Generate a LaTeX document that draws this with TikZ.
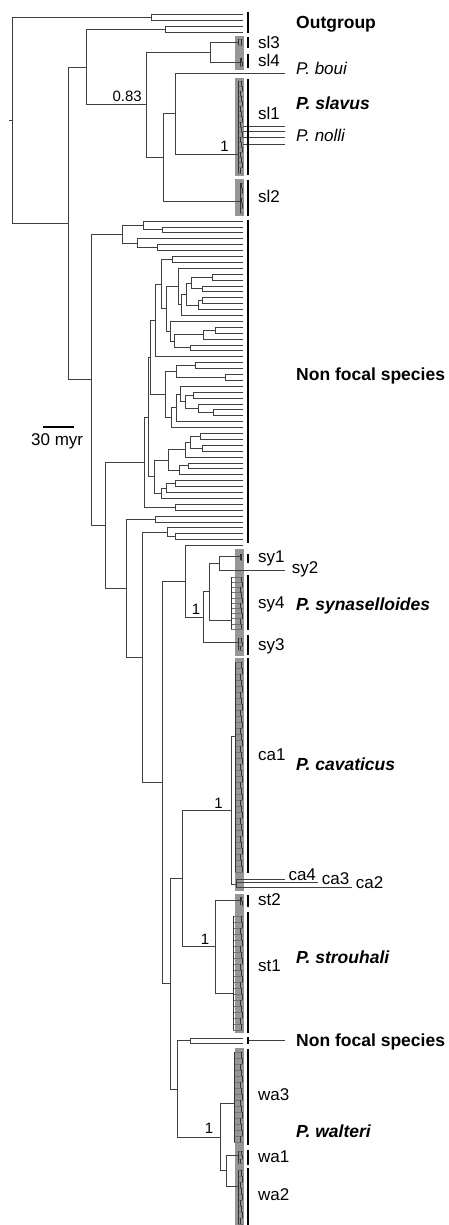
\documentclass[tikz,border=0pt]{standalone}
\usepackage{fontspec}
\setmainfont{Liberation Sans}
\usetikzlibrary{calc}
\definecolor{cladegray}{RGB}{150,150,150}
\tikzset{
  branch/.style={draw=black!75,line width=0.8pt},
  fine/.style={draw=black!80,line width=0.5pt},
  twig/.style={draw=black!55,line width=0.4pt},
  cladebar/.style={draw=black,line width=2.4pt},
  grp/.style={anchor=base west,inner sep=0pt,font=\fontsize{17}{17}\selectfont},
  bold/.style={grp,font=\fontsize{17.5}{17.5}\selectfont\bfseries},
  ital/.style={grp,font=\fontsize{17}{17}\selectfont\itshape},
  spname/.style={grp,font=\fontsize{17.5}{17.5}\selectfont\bfseries\itshape},
  support/.style={anchor=base east,inner sep=0pt,font=\fontsize{15}{15}\selectfont}
}
% elbow from a node at x=#2 to its two children
\newcommand\clade[4]{%
  \coordinate (#1x) at (#2,0);
  \coordinate (#1m) at ($(#3)!0.5!(#4)$);
  \coordinate (#1) at (#1m -| #1x);
  \draw[branch] (#3) -- (#3 -| #1) -- (#4 -| #1) -- (#4);}
% dense little tree inside a shaded clade
\newcommand\subtree[4]{%
  \foreach \k in {0,...,#3} \draw[twig] (#1,{#2+\k*#4}) -- (243,{#2+\k*#4});
  \draw[fine] (#1,#2) -- (#1,{#2+#3*#4});
  \foreach \k in {1,...,#3}
    \draw[fine] ({240+mod(\k,3)},{#2+(\k-1)*#4}) -- ({240+mod(\k,3)},{#2+\k*#4});}

\begin{document}
\begin{tikzpicture}[x=1pt,y=-1pt]
  \fill[white] (0,0) rectangle (448,1225);
  \useasboundingbox (0,0) rectangle (448,1225);
  \foreach \ya/\yb in {36/70,78/176,179/216,549/656,658/891,894/1033,1048/1225}
    \fill[cladegray] (235,\ya) rectangle (243.5,\yb);

  % outgroup and P. slavus
  \coordinate (o1) at (243,14.5); \coordinate (o2) at (243,20);
  \coordinate (o3) at (243,26.7); \coordinate (o4) at (243,32);
  \clade{ogA}{151}{o1}{o2}
  \clade{ogB}{165}{o3}{o4}
  \coordinate (sl3) at (238,42); \coordinate (sl4) at (240,62);
  \coordinate (boui) at (285,73); \coordinate (sl1) at (238,154);
  \coordinate (sl2) at (240,201);
  \clade{s34}{210}{sl3}{sl4}
  \clade{bs1}{175}{boui}{sl1}
  \clade{s12}{163}{bs1}{sl2}
  \clade{slv}{146}{s34}{s12}
  \clade{ogS}{86}{ogB}{slv}
  \subtree{238}{39}{1}{6}
  \subtree{240}{58}{2}{4}
  \subtree{238}{81}{18}{5.1}
  \subtree{240}{183}{6}{5}
  \foreach \yy in {126,131,137.3,144} \draw[branch] (243,\yy) -- (285,\yy);

  % non focal species
  \foreach \i in {0,...,55} \coordinate (t\i) at (243,{221+5.9*\i});
  \clade{a1}{162}{t1}{t2}
  \clade{a2}{143}{t0}{a1}
  \clade{b1}{157}{t4}{t5}
  \clade{b2}{137}{t3}{b1}
  \clade{n122}{122}{a2}{b2}
  \clade{c1}{172.5}{t6}{t7}
  \clade{D1}{212.7}{t9}{t10}
  \clade{D2}{202.7}{t11}{t12}
  \clade{D3}{191.7}{D1}{D2}
  \clade{D4}{202.7}{t13}{t14}
  \clade{D5}{198}{D4}{t15}
  \clade{D6}{186}{D3}{D5}
  \clade{D7}{181.7}{D6}{t16}
  \clade{D8}{178}{t8}{D7}
  \clade{E1}{215}{t18}{t19}
  \clade{E2}{203}{E1}{t20}
  \clade{E3}{190}{t21}{t22}
  \clade{E4}{174}{E2}{E3}
  \clade{E5}{170}{t17}{E4}
  \clade{F1}{166}{D8}{E5}
  \clade{F2}{161.7}{c1}{F1}
  \clade{F3}{155.7}{F2}{t23}
  \clade{G1}{195}{t24}{t25}
  \clade{G2}{225}{t26}{t27}
  \clade{G3}{176.7}{G1}{G2}
  \clade{H1}{193}{t29}{t30}
  \clade{H2}{213}{t32}{t33}
  \clade{H3}{198}{t31}{H2}
  \clade{H4}{185}{H1}{H3}
  \clade{H5}{180}{t28}{H4}
  \clade{H6}{176}{H5}{t34}
  \clade{H7}{171}{H6}{t35}
  \clade{GH}{165}{G3}{H7}
  \clade{I1}{200.7}{t36}{t37}
  \clade{I2}{202.7}{t38}{t39}
  \clade{I3}{190}{I1}{I2}
  \clade{I4}{185}{I3}{t40}
  \clade{I5}{188.3}{t41}{t42}
  \clade{I6}{179.3}{I5}{t43}
  \clade{I7}{168.3}{I4}{I6}
  \clade{I8}{175}{t44}{t45}
  \clade{I9}{166}{I8}{t46}
  \clade{I10}{161}{I9}{t47}
  \clade{I11}{154}{I7}{I10}
  \clade{K1}{175.7}{t48}{t49}
  \clade{J1}{150}{F3}{GH}
  \clade{J2}{148.3}{J1}{I11}
  \clade{n144}{144}{J2}{K1}
  \clade{L1}{155}{t50}{t51}
  \clade{M1}{175}{t53}{t54}
  \clade{M2}{167.7}{t52}{M1}

  % P. synaselloides
  \coordinate (sy1) at (240,556.7); \coordinate (sy2) at (285,570);
  \coordinate (sy4) at (231,620); \coordinate (sy3) at (238.7,642.7);
  \clade{sy12}{219.3}{sy1}{sy2}
  \clade{sy124}{209.3}{sy12}{sy4}
  \clade{syn}{203.3}{sy124}{sy3}
  \clade{nsy}{185}{t55}{syn}
  \subtree{240}{553.7}{1}{6}
  \subtree{231}{577}{10}{5.2}
  \subtree{238.7}{638}{3}{4}

  % P. cavaticus and P. strouhali
  \coordinate (ca1) at (235,736); \coordinate (ca24) at (236,884);
  \clade{cav}{231.7}{ca1}{ca24}
  \subtree{235}{662}{35}{6}
  \coordinate (ca4e) at (285,879); \coordinate (ca3e) at (318,882.3);
  \coordinate (ca2e) at (352,887.3);
  \draw[branch] (ca4e -| ca24) -- (ca2e -| ca24);
  \foreach \e in {ca4e,ca3e,ca2e} \draw[branch] (\e -| ca24) -- (\e);
  \coordinate (st2) at (240.7,900); \coordinate (st1) at (233.3,993.3);
  \clade{str}{215.7}{st2}{st1}
  \subtree{240.7}{897}{2}{4}
  \subtree{233.3}{916}{19}{6}
  \clade{cs}{182.3}{cav}{str}

  % P. walteri
  \coordinate (nfa) at (243,1038.3); \coordinate (nfb) at (243,1043.3);
  \clade{nf2}{190.3}{nfa}{nfb}
  \coordinate (nfc) at (249,1040.7); \coordinate (nfd) at (285,1040.7);
  \draw[branch] (nfc) -- (nfd);
  \coordinate (wa3) at (234.3,1103.3); \coordinate (wa1) at (238,1155);
  \coordinate (wa2) at (238,1186.7);
  \clade{wa12}{226}{wa1}{wa2}
  \clade{wal}{220.3}{wa3}{wa12}
  \subtree{234.3}{1052}{15}{6}
  \subtree{238}{1151}{3}{4}
  \subtree{238}{1170}{9}{6}
  \clade{nw}{177.3}{nf2}{wal}
  \clade{csw}{170.7}{cs}{nw}

  % backbone
  \clade{syc}{162.3}{nsy}{csw}
  \clade{n142}{142.3}{M2}{syc}
  \clade{n127}{126.7}{L1}{n142}
  \clade{n105}{105}{n144}{n127}
  \clade{n91}{91}{n122}{n105}
  \clade{n68}{68}{ogS}{n91}
  \clade{root}{12}{ogA}{n68}
  \coordinate (stub) at (9,0);
  \draw[branch] (root) -- (root -| stub);

  \foreach \ya/\yb in {12/33,37/48,54/68,79/175,180/216,220/543,554/563,575/630,635/655,
    658/873,895/907,912/1033,1037/1044,1049/1145,1150/1165,1168/1225}
    \draw[cladebar] (247.8,\ya) -- (247.8,\yb);

  % support values
  \node[support] (p083) at ($(slv)+(-4,-2.8)$) {0.83};
  \node[support] (psl) at ($(sl1)+(-9,-2.3)$) {1};
  \node[support] (psy) at ($(syn)+(-2.8,-2.2)$) {1};
  \node[support] (pca) at ($(cav)+(-8.7,-1.7)$) {1};
  \node[support] (pst) at ($(str)+(-6.2,-2.3)$) {1};
  \node[support] (pwa) at ($(wal)+(-6.8,-3.8)$) {1};

  % scale
  \coordinate (sb1) at (42.7,426.7); \coordinate (sb2) at (74,426.7);
  \draw[line width=1.6pt] (sb1) -- (sb2);
  \node[grp] (myr) at (31,445) {30 myr};

  % clade labels
  \foreach \n/\y/\t in {lsl3/48.3/sl3,lsl4/66.7/sl4,lsl1/119.3/sl1,lsl2/202.7/sl2,
    lsy1/562.7/sy1,lsy4/608.3/sy4,lsy3/650/sy3,lca1/760/ca1,lst2/905/st2,lst1/971.7/st1,
    lwa3/1100/wa3,lwa1/1162.3/wa1,lwa2/1200.7/wa2}
    \node[grp] (\n) at (258,\y) {\t};
  \node[grp] (lsy2) at (291.7,573.3) {sy2};
  \node[grp] (lca4) at (288.3,880) {ca4};
  \node[grp] (lca3) at (321.7,884) {ca3};
  \node[grp] (lca2) at (355.7,888.3) {ca2};

  \node[bold] (lout) at (296,28.3) {Outgroup};
  \node[ital] (lboui) at (296,75) {P. boui};
  \node[spname] (lslav) at (296,110) {P. slavus};
  \node[ital] (lnolli) at (296,141.7) {P. nolli};
  \node[bold] (lnf1) at (296,380) {Non focal species};
  \node[spname] (lsyn) at (296,610.7) {P. synaselloides};
  \node[spname] (lcav) at (296,770.7) {P. cavaticus};
  \node[spname] (lstr) at (296,963.3) {P. strouhali};
  \node[bold] (lnf2) at (296,1046.7) {Non focal species};
  \node[spname] (lwal) at (296,1137.3) {P. walteri};
\end{tikzpicture}
\end{document}
